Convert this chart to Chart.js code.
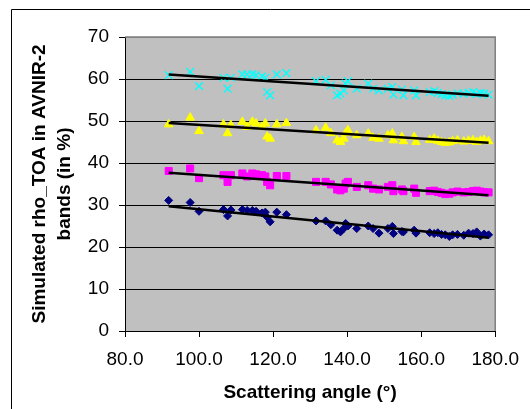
<!DOCTYPE html>
<html>
<head>
<meta charset="utf-8">
<script src="https://cdn.jsdelivr.net/npm/chart.js@4"></script>
<style>
  html, body { margin: 0; padding: 0; background: #fff; }
  #wrap { position: relative; width: 530px; height: 409px; }
</style>
</head>
<body>
<div id="wrap"><canvas id="rhoChart" width="530" height="409"></canvas></div>
<script>
// scattering angles (deg), shared by the four bands
const angles = [
  91.8, 97.6, 100.0, 106.6, 107.7, 108.6, 111.7, 113.0, 114.4, 115.4,
  117.0, 117.9, 118.4, 119.2, 121.0, 123.6, 131.6, 134.2, 135.6, 137.3,
  138.2, 139.1, 139.6, 140.2, 142.6, 145.7, 147.0, 148.6, 151.0, 152.2,
  152.5, 154.8, 155.2, 158.1, 158.6, 162.3, 163.5, 164.5, 165.5, 166.5,
  167.6, 168.5, 169.8, 171.5, 172.8, 174.0, 175.0, 176.0, 177.0, 178.2
];

const band1 = [
  31.1, 30.6, 28.5, 28.9, 27.4, 28.8, 28.9, 28.7, 28.7, 28.5,
  28.1, 28.3, 27.1, 26.0, 28.3, 27.7, 26.2, 26.2, 25.3, 24.0,
  23.6, 24.4, 25.6, 25.0, 24.4, 25.0, 24.4, 23.3, 24.4, 24.9,
  23.2, 23.7, 23.6, 24.0, 23.3, 23.4, 23.2, 23.4, 23.0, 22.9,
  22.5, 22.9, 23.0, 22.8, 23.3, 23.2, 23.6, 22.6, 23.1, 22.9
];

const band2 = [
  38.1, 38.7, 36.4, 37.1, 35.5, 37.1, 37.5, 36.8, 37.5, 37.3,
  37.1, 36.8, 35.5, 34.7, 36.9, 36.9, 35.5, 35.5, 34.9, 33.7,
  33.5, 33.9, 35.1, 35.5, 34.3, 34.7, 33.9, 33.7, 34.3, 34.7,
  33.3, 33.7, 33.3, 33.9, 32.9, 33.3, 33.4, 33.1, 32.9, 32.6,
  32.7, 33.0, 33.2, 33.0, 33.1, 33.3, 33.4, 33.2, 33.0, 33.0
];

const band3 = [
  49.2, 50.8, 47.6, 49.2, 47.1, 49.0, 49.8, 48.6, 49.8, 49.4,
  48.6, 49.4, 46.3, 45.8, 49.2, 49.5, 47.8, 48.4, 47.1, 45.4,
  45.0, 45.8, 47.1, 47.8, 46.6, 47.0, 46.0, 45.8, 46.6, 47.0,
  45.4, 46.2, 45.2, 46.2, 45.0, 45.5, 45.8, 45.3, 45.0, 44.8,
  44.9, 45.2, 45.4, 45.1, 45.3, 45.4, 45.0, 45.3, 45.5, 45.2
];

const band4 = [
  60.9, 61.7, 58.3, 60.3, 57.7, 60.3, 61.1, 61.1, 61.1, 60.9,
  60.6, 60.3, 56.9, 56.1, 61.1, 61.4, 59.5, 59.8, 58.5, 56.1,
  56.5, 57.3, 58.9, 59.5, 57.7, 58.9, 57.7, 57.3, 57.7, 58.1,
  56.3, 57.5, 56.1, 57.3, 56.1, 56.9, 57.1, 56.7, 56.4, 56.1,
  56.0, 56.3, 56.6, 56.5, 56.7, 56.9, 56.4, 56.7, 56.5, 56.3
];

// linear trend end points
const trendX = [91.8, 178.2];
const trend1 = [29.7, 22.2];
const trend2 = [37.7, 32.3];
const trend3 = [49.5, 44.8];
const trend4 = [61.1, 56.0];

const xTicks = [80, 100, 120, 140, 160, 180];
const yTicks = [0, 10, 20, 30, 40, 50, 60, 70];

const toPoints = (xs, ys) => xs.map((x, i) => ({ x: x, y: ys[i] }));

const markerSet = (data, color, style, radius, width) => ({
  type: "scatter",
  data: toPoints(angles, data),
  backgroundColor: color,
  borderColor: color,
  pointStyle: style,
  pointRadius: radius,
  pointHoverRadius: radius,
  pointBorderWidth: width,
  order: 2,
});

const trendSet = (ys) => ({
  type: "line",
  data: toPoints(trendX, ys),
  borderColor: "#000000",
  borderWidth: 2.5,
  pointRadius: 0,
  fill: false,
  order: 0,
});

// grey plot area + frame of the whole picture
const plotArea = {
  id: "plotArea",
  beforeDraw(chart) {
    const { ctx, chartArea: a } = chart;
    ctx.save();
    ctx.fillStyle = "#c0c0c0";
    ctx.fillRect(a.left, a.top, a.right - a.left, a.bottom - a.top);
    ctx.strokeStyle = "#000000";
    ctx.lineWidth = 1;
    ctx.beginPath();
    ctx.moveTo(11.5, 409);
    ctx.lineTo(11.5, 9.5);
    ctx.lineTo(530, 9.5);
    ctx.stroke();
    ctx.restore();
  },
  beforeDatasetsDraw(chart) {
    const { ctx, chartArea: a } = chart;
    ctx.save();
    ctx.strokeStyle = "#808080";
    ctx.lineWidth = 1.5;
    ctx.beginPath();
    ctx.moveTo(a.left, a.top);
    ctx.lineTo(a.right, a.top);
    ctx.lineTo(a.right, a.bottom);
    ctx.stroke();
    ctx.restore();
  },
};

const tickFont = { family: "'Liberation Sans', Arial, sans-serif", size: 19 };
const titleFont = { family: "'Liberation Sans', Arial, sans-serif", size: 19, weight: "bold" };

const ctx = document.getElementById("rhoChart").getContext("2d");
new Chart(ctx, {
  type: "scatter",
  data: {
    datasets: [
      trendSet(trend1),
      trendSet(trend2),
      trendSet(trend3),
      trendSet(trend4),
      markerSet(band1, "#000080", "rectRot", 4, 1),
      markerSet(band2, "#ff00ff", "rect", 5, 1),
      markerSet(band3, "#ffff00", "triangle", 5, 1),
      markerSet(band4, "#00ffff", "crossRot", 5.5, 1.3),
    ],
  },
  options: {
    responsive: false,
    animation: false,
    layout: { padding: { left: 0, top: 37, right: 22, bottom: 0 } },
    plugins: {
      legend: { display: false },
      tooltip: { enabled: false },
    },
    scales: {
      x: {
        type: "linear",
        min: 80,
        max: 180,
        afterBuildTicks: (scale) => {
          scale.ticks = xTicks.map((v) => ({ value: v }));
        },
        afterFit: (scale) => {
          scale.height = 78;
        },
        ticks: {
          color: "#000000",
          font: tickFont,
          padding: 11,
          maxRotation: 0,
          callback: (v) => Number(v).toFixed(1),
        },
        grid: {
          drawOnChartArea: false,
          drawTicks: true,
          tickLength: 6,
          tickColor: "#000000",
        },
        border: { color: "#000000", width: 1 },
        title: {
          display: true,
          text: "Scattering angle (°)",
          color: "#000000",
          font: { ...titleFont, lineHeight: "20px" },
          padding: { top: 0, bottom: 6.5 },
        },
      },
      y: {
        type: "linear",
        min: 0,
        max: 70,
        afterBuildTicks: (scale) => {
          scale.ticks = yTicks.map((v) => ({ value: v }));
        },
        afterFit: (scale) => {
          scale.width = 125;
        },
        ticks: {
          color: "#000000",
          font: tickFont,
          padding: 10,
        },
        grid: {
          color: (c) => (c.tick && c.tick.value === 70 ? "#808080" : "#000000"),
          lineWidth: 1,
          drawTicks: true,
          tickLength: 6,
          tickColor: "#000000",
        },
        border: { color: "#000000", width: 1 },
        title: {
          display: true,
          text: ["Simulated rho_TOA in AVNIR-2", "bands (in %)"],
          color: "#000000",
          font: { ...titleFont, lineHeight: "25px" },
          padding: { top: 27.5, bottom: 0 },
        },
      },
    },
  },
  plugins: [plotArea],
});
</script>
</body>
</html>
